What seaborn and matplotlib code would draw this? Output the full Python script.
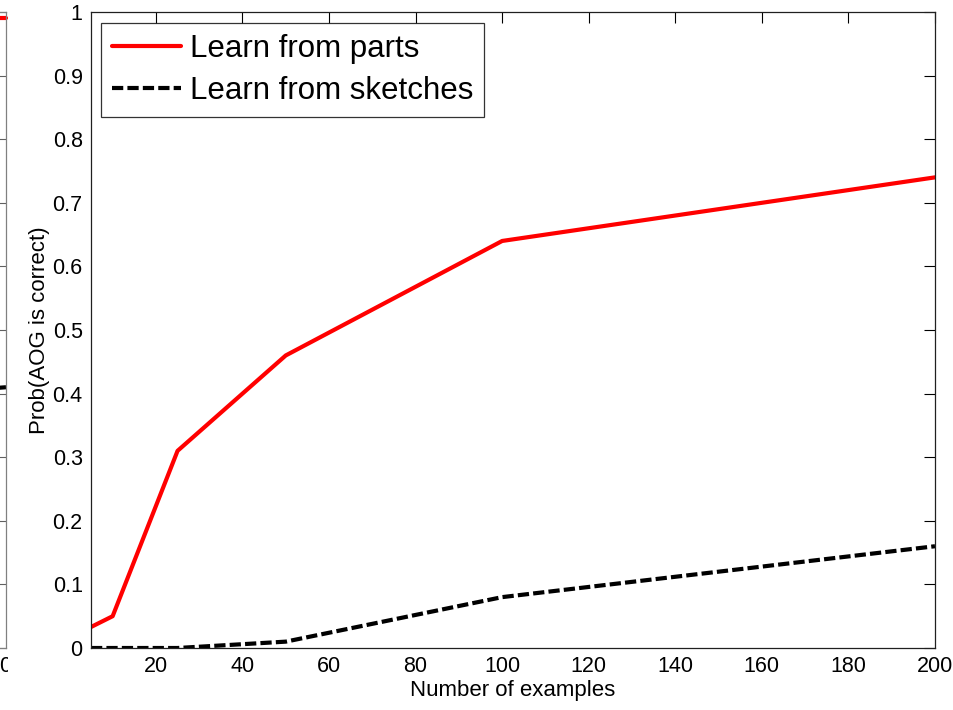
import pandas as pd
import matplotlib
matplotlib.use('Agg')
import matplotlib.pyplot as plt
import seaborn as sns
from matplotlib.transforms import Bbox

# data
examples = [5, 10, 25, 50, 100, 200]
learn_parts = [0.033, 0.05, 0.31, 0.46, 0.64, 0.74]
learn_sketches = [0.0, 0.0, 0.0, 0.01, 0.08, 0.16]

# tail of the neighbouring panel that is cut off at the left edge
left_x = [180, 200]
left_parts = [0.99, 0.99]
left_sketches = [0.40, 0.41]

x_ticks = [20, 40, 60, 80, 100, 120, 140, 160, 180, 200]
y_ticks = [0, 0.1, 0.2, 0.3, 0.4, 0.5, 0.6, 0.7, 0.8, 0.9, 1]
y_labels = ['0', '0.1', '0.2', '0.3', '0.4', '0.5', '0.6', '0.7', '0.8', '0.9', '1']

sns.set_style('white')
plt.rcParams['font.family'] = ['Liberation Sans', 'DejaVu Sans']
plt.rcParams['text.color'] = 'black'
plt.rcParams['axes.labelcolor'] = 'black'

df = pd.DataFrame({
    'examples': examples * 2,
    'prob': learn_parts + learn_sketches,
    'method': ['Learn from parts'] * len(examples) + ['Learn from sketches'] * len(examples),
})

W, H = 954, 710
fig = plt.figure(figsize=(W / 100, H / 100), dpi=100)
ax = fig.add_axes([91 / W, 62 / H, 844 / W, 636 / H])

palette = {'Learn from parts': '#ff0000', 'Learn from sketches': 'black'}
dashes = {'Learn from parts': '', 'Learn from sketches': (2.7, 1.0)}
sns.lineplot(data=df, x='examples', y='prob', hue='method', style='method',
             palette=palette, dashes=dashes, linewidth=3, ax=ax, legend=True)

ax.set_xlim(5, 200)
ax.set_ylim(0, 1)
ax.set_xticks(x_ticks)
ax.set_yticks(y_ticks)
ax.set_yticklabels(y_labels)
ax.tick_params(direction='in', length=8, width=0.8, top=True, right=True,
               labelsize=15.5, colors='black', pad=6)
for s in ax.spines.values():
    s.set_visible(True)
    s.set_color('#202020')
    s.set_linewidth(0.9)
ax.set_xlabel('Number of examples', fontsize=16, labelpad=2)
ax.set_ylabel('Prob(AOG is correct)', fontsize=16, labelpad=2)

leg = ax.legend(loc='upper left', bbox_to_anchor=(10 / 844, 1 - 11 / 636),
                fontsize=22.5, frameon=True, fancybox=False, borderaxespad=0,
                handlelength=2.2, handletextpad=0.3, labelspacing=0.38,
                borderpad=0.35)
leg.get_frame().set_edgecolor('black')
leg.get_frame().set_linewidth(0.9)
for line in leg.get_lines():
    line.set_linewidth(3)
for txt in leg.get_texts():
    txt.set_color('black')

# neighbouring panel, mostly outside the figure
ax2 = fig.add_axes([(6 - 844) / W, 62 / H, 844 / W, 636 / H])
ax2.plot(left_x, left_parts, color='#ff0000', linewidth=3, clip_on=False)
ax2.plot(left_x, left_sketches, color='black', linewidth=3, linestyle=(0, (2.7, 1.0)))
ax2.set_xlim(5, 200)
ax2.set_ylim(0, 1)
ax2.set_yticks(y_ticks)
ax2.set_xticks([])
ax2.tick_params(direction='in', length=8, width=0.8, left=False, right=True,
                labelleft=False, colors='#606060')
for s in ax2.spines.values():
    s.set_color('#808080')
    s.set_linewidth(0.9)
t = fig.text(-1 / W, 1 - 666 / H, '0', fontsize=15.5, ha='left', va='center')
t.set_clip_box(Bbox([[0, 0], [8, H]]))
t.set_clip_on(True)

fig.savefig('out.png', dpi=100)
